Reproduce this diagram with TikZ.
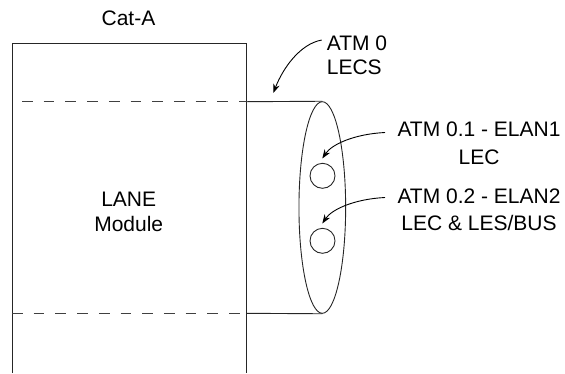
\documentclass[tikz,border=0pt]{standalone}
\usepackage{fontspec}
\setmainfont{Liberation Sans}
\usetikzlibrary{shapes.geometric,arrows.meta}
\begin{document}
\begin{tikzpicture}[x=1pt,y=-1pt,
  lbl/.style={inner sep=0pt,font=\fontsize{21}{25}\selectfont},
  ln/.style={line width=0.9pt,black!85},
  dsh/.style={line width=0.9pt,black!75,dash pattern=on 10.7pt off 11pt},
  arr/.style={line width=0.9pt,-{Stealth[length=9pt,width=6.5pt]}}]
\useasboundingbox (0,0) rectangle (565,373);
% box
\coordinate (bl) at (12,373);
\coordinate (tl) at (12,43.3);
\coordinate (tr) at (246.7,43.3);
\coordinate (br) at (246.7,373);
\draw[ln] (bl) -- (tl) -- (tr) -- (br);
% dashed lines
\coordinate (d1a) at (22,101.7);
\coordinate (d1b) at (246.7,101.7);
\coordinate (d2a) at (12,313.3);
\coordinate (d2b) at (246.7,313.3);
\draw[dsh] (d1a) -- (d1b);
\draw[dsh] (d2a) -- (d2b);
% cylinder end
\node[ellipse,draw,ln,minimum width=46.7pt,minimum height=211.6pt,inner sep=0pt] (endc) at (322.3,207.5) {};
\draw[ln] (d1b) -- (endc.north);
\draw[ln] (d2b) -- (endc.south);
\node[circle,draw,ln,minimum size=25pt,inner sep=0pt] (c1) at (322.5,175.8) {};
\node[circle,draw,ln,minimum size=25pt,inner sep=0pt] (c2) at (322.5,240.8) {};
% texts
\node[lbl,anchor=base] (cat) at (128.5,25) {Cat-A};
\node[lbl,anchor=base] (lane) at (128.7,206) {LANE};
\node[lbl,anchor=base] (mod) at (128.7,231.3) {Module};
\node[lbl,anchor=base west] (atm0) at (326.7,50) {ATM 0};
\node[lbl,anchor=base west] (lecs) at (326.7,74.5) {LECS};
\node[lbl,anchor=base] (e1) at (479,136.7) {ATM 0.1 - ELAN1};
\node[lbl,anchor=base] (e1b) at (479,164.5) {LEC};
\node[lbl,anchor=base] (e2) at (479,203.3) {ATM 0.2 - ELAN2};
\node[lbl,anchor=base] (e2b) at (479,230) {LEC \& LES/BUS};
% arrows
\coordinate (s0) at (321.7,40);
\coordinate (t0) at (273.3,93);
\coordinate (s1) at (385,132.5);
\coordinate (t1) at (322.3,158.5);
\coordinate (s2) at (385,197.5);
\coordinate (t2) at (322.3,223.5);
\draw[arr] (s0) .. controls (300,44) and (283,68) .. (t0);
\draw[arr] (s1) .. controls (355,134) and (332,144) .. (t1);
\draw[arr] (s2) .. controls (355,199) and (332,209) .. (t2);
\end{tikzpicture}
\end{document}
